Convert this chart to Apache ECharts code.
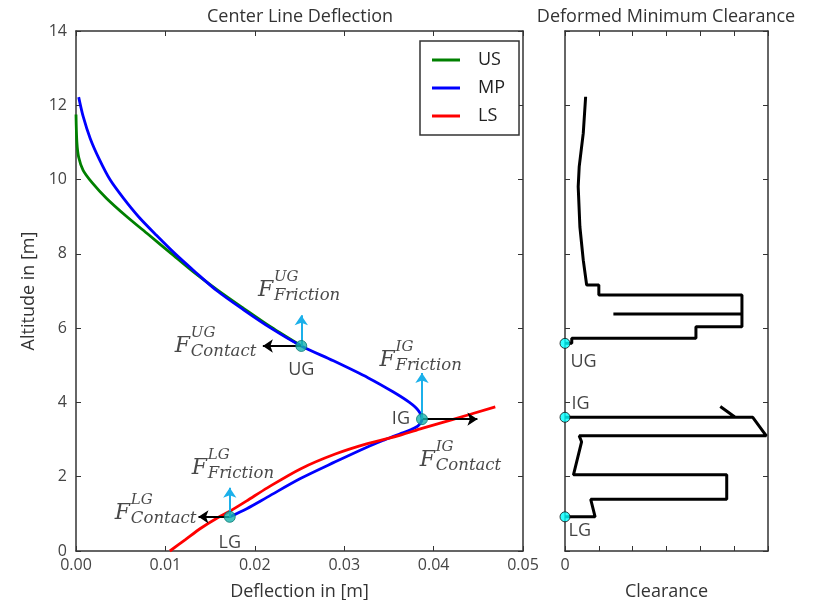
<!DOCTYPE html>
<html><head><meta charset="utf-8">
<script src="https://cdn.jsdelivr.net/npm/echarts@6/dist/echarts.min.js"></script>
<style>html,body{margin:0;padding:0;background:#fff}#c{width:824px;height:600px}</style>
</head><body><div id="c"></div>
<script>
// ---------- data ----------
const usPoints = [[0.0000,11.75],[0.0001,11.0],[0.0003,10.6],[0.0008,10.25],[0.0018,9.92],[0.0034,9.5],[0.0056,9.02],[0.0081,8.52],[0.0106,8.02],[0.0131,7.52],[0.0158,7.03],[0.0187,6.54],[0.0218,6.03],[0.0252,5.52]];
const mpPoints = [[0.0003,12.22],[0.0008,11.7],[0.0016,11.1],[0.0026,10.55],[0.0038,10.0],[0.0053,9.5],[0.0070,9.0],[0.0090,8.5],[0.0111,8.0],[0.0134,7.5],[0.0158,7.0],[0.0187,6.5],[0.0218,6.0],[0.0252,5.52],[0.0288,5.12],[0.0327,4.66],[0.0355,4.28],[0.0373,4.0],[0.0383,3.78],[0.0387,3.55],[0.0383,3.38],[0.0375,3.27],[0.0362,3.15],[0.0345,2.99],[0.0326,2.80],[0.0290,2.40],[0.0251,1.95],[0.0214,1.45],[0.0191,1.14],[0.0172,0.92]];
const lsPoints = [[0.0105,0.0],[0.0122,0.3],[0.0140,0.62],[0.0158,0.89],[0.0172,1.07],[0.0191,1.35],[0.0214,1.70],[0.0251,2.21],[0.0290,2.61],[0.0326,2.89],[0.0363,3.12],[0.0387,3.30],[0.0420,3.53],[0.0469,3.88]];

const gaugeNames = ['UG','IG','LG'];
const gaugeDeflection = [0.0252, 0.0387, 0.0172];
const gaugeAltitude = [5.52, 3.55, 0.92];
const contactArrowTip = [0.0209, 0.0449, 0.0137];   // deflection where black arrow ends
const frictionArrowTip = [6.35, 4.79, 1.70];        // altitude where cyan arrow ends

const forceSup = ['UG','UG','IG','IG','LG','LG'];
const forceSub = ['Friction','Contact','Friction','Contact','Friction','Contact'];
const forceLabelAnchor = [[0.0204,7.57],[0.0111,6.06],[0.0340,5.68],[0.0385,2.99],[0.0130,2.77],[0.0044,1.56]];

const clearanceUpper = [[0.61,12.23],[0.54,11.25],[0.42,10.35],[0.39,9.81],[0.44,8.73],[0.54,7.83],[0.64,7.16],[1.0,7.16],[1.0,6.89],[5.23,6.89],[5.23,6.38],[1.43,6.38],[5.23,6.38],[5.23,6.04],[3.87,6.04],[3.87,5.73],[0.2,5.73],[0.2,5.59],[0,5.59]];
const clearanceLower = [[4.59,3.89],[5.03,3.6],[0,3.6],[5.55,3.6],[5.95,3.1],[0.42,3.1],[0.49,2.94],[0.25,2.05],[4.78,2.05],[4.78,1.39],[0.76,1.39],[0.89,0.92],[0,0.92]];
const clearanceGaugeAltitude = [5.59, 3.60, 0.92];

const deflectionTickLabels = ['0.00','0.01','0.02','0.03','0.04','0.05'];
const altitudeTickLabels = ['0','2','4','6','8','10','12','14'];
const clearanceTickLabels = ['0','','','','','',''];

// ---------- chart ----------
const FONT = 'Open Sans';
const MATH = 'DejaVu Serif';
const AX = '#333';
const chart = echarts.init(document.getElementById('c'), null, {renderer:'canvas'});

function frameAxis(o){
  return Object.assign({
    type:'value', splitLine:{show:false},
    axisLine:{show:true, onZero:false, lineStyle:{color:AX, width:1.5}},
    axisTick:{show:true, inside:true, length:5, lineStyle:{color:AX, width:1}},
    axisLabel:{show:false}
  }, o);
}
const tickLabel = {show:true, color:'#444', fontSize:16, fontFamily:FONT};
const nameStyle = {color:'#333', fontSize:18, fontFamily:FONT};

const scriptRich = {
  sup:{fontFamily:MATH, fontStyle:'italic', fontSize:15, color:'#1a1a1a', lineHeight:15},
  sub:{fontFamily:MATH, fontStyle:'italic', fontSize:16.5, color:'#1a1a1a', lineHeight:22}
};

const option = {
  animation:false,
  backgroundColor:'#fff',
  textStyle:{fontFamily:FONT},
  title:[
    {text:'Center Line Deflection', left:300, top:8, padding:0, textAlign:'center', textStyle:{fontSize:18, fontWeight:'normal', color:'#333', fontFamily:FONT}},
    {text:'Deformed Minimum Clearance', left:666, top:8, padding:0, textAlign:'center', textStyle:{fontSize:18, fontWeight:'normal', color:'#333', fontFamily:FONT}}
  ],
  legend:{
    data:['US','MP','LS'], orient:'vertical', left:420, top:41, icon:'rect',
    padding:[10,14,10,12], itemGap:10, itemWidth:28, itemHeight:3,
    backgroundColor:'#fff', borderColor:'#333', borderWidth:1.5, borderRadius:0,
    textStyle:{fontSize:18, lineHeight:14, color:'#222', fontFamily:FONT, padding:[0,0,0,13]}
  },
  grid:[
    {left:76, top:31, width:447, height:520, containLabel:false, outerBoundsMode:'none'},
    {left:565, top:31, width:203, height:520, containLabel:false, outerBoundsMode:'none'}
  ],
  xAxis:[
    frameAxis({gridIndex:0, min:0, max:0.05, interval:0.01, position:'bottom',
      axisLabel:Object.assign({}, tickLabel, {margin:6, formatter:v=>deflectionTickLabels[Math.round(v/0.01)]}),
      name:'Deflection in [m]', nameLocation:'middle', nameGap:32, nameTextStyle:nameStyle}),
    frameAxis({gridIndex:0, min:0, max:0.05, interval:0.01, position:'top'}),
    frameAxis({gridIndex:1, min:0, max:6, interval:1, position:'bottom',
      axisLabel:Object.assign({}, tickLabel, {margin:6, formatter:v=>clearanceTickLabels[Math.round(v)]}),
      name:'Clearance', nameLocation:'middle', nameGap:32, nameTextStyle:nameStyle}),
    frameAxis({gridIndex:1, min:0, max:6, interval:1, position:'top'})
  ],
  yAxis:[
    frameAxis({gridIndex:0, min:0, max:14, interval:2, position:'left',
      axisLabel:Object.assign({}, tickLabel, {margin:9, formatter:v=>altitudeTickLabels[Math.round(v/2)]}),
      name:'Altitude in [m]', nameLocation:'middle', nameGap:37, nameRotate:90, nameTextStyle:nameStyle}),
    frameAxis({gridIndex:0, min:0, max:14, interval:2, position:'right'}),
    frameAxis({gridIndex:1, min:0, max:14, interval:2, position:'left'}),
    frameAxis({gridIndex:1, min:0, max:14, interval:2, position:'right'})
  ],
  series:[
    {name:'US', type:'line', xAxisIndex:0, yAxisIndex:0, data:usPoints, symbol:'none', smooth:0.3,
      color:'#008000', lineStyle:{color:'#008000', width:2.8}, z:2},
    {name:'MP', type:'line', xAxisIndex:0, yAxisIndex:0, data:mpPoints, symbol:'none', smooth:0.3,
      color:'#0000ff', lineStyle:{color:'#0000ff', width:2.8}, z:3},
    {name:'LS', type:'line', xAxisIndex:0, yAxisIndex:0, data:lsPoints, symbol:'none', smooth:0.3,
      color:'#ff0000', lineStyle:{color:'#ff0000', width:2.8}, z:4},
    {type:'lines', coordinateSystem:'cartesian2d', xAxisIndex:0, yAxisIndex:0, silent:true, z:5,
      symbol:['none','arrow'], symbolSize:10,
      lineStyle:{color:'#000', width:2, opacity:1},
      data:gaugeNames.map((n,i)=>({coords:[[gaugeDeflection[i],gaugeAltitude[i]],[contactArrowTip[i],gaugeAltitude[i]]]}))},
    {type:'lines', coordinateSystem:'cartesian2d', xAxisIndex:0, yAxisIndex:0, silent:true, z:5,
      symbol:['none','arrow'], symbolSize:10,
      lineStyle:{color:'#1bb0ea', width:2, opacity:1},
      data:gaugeNames.map((n,i)=>({coords:[[gaugeDeflection[i],gaugeAltitude[i]],[gaugeDeflection[i],frictionArrowTip[i]]]}))},
    {type:'scatter', xAxisIndex:0, yAxisIndex:0, silent:true, z:6, symbolSize:11,
      itemStyle:{color:'#17b3ad', borderColor:'#0d7a76', borderWidth:1},
      label:{show:true, formatter:'{b}', color:'#111', fontSize:18, fontFamily:FONT},
      data:gaugeNames.map((n,i)=>({name:n, value:[gaugeDeflection[i],gaugeAltitude[i]],
        label:{position: n==='IG' ? 'left' : 'bottom', distance: n==='IG' ? 6 : (n==='UG' ? 9 : 11)}}))},
    // big italic F of each force label
    {type:'scatter', xAxisIndex:0, yAxisIndex:0, silent:true, z:7, symbolSize:1,
      itemStyle:{color:'rgba(0,0,0,0)'},
      label:{show:true, position:[0,0], align:'left', verticalAlign:'top', offset:[0,10],
        formatter:'F', fontFamily:MATH, fontStyle:'italic', fontSize:22, lineHeight:22, color:'#1a1a1a'},
      data:forceLabelAnchor.map(a=>({value:a}))},
    // superscript / subscript of each force label
    {type:'scatter', xAxisIndex:0, yAxisIndex:0, silent:true, z:7, symbolSize:1,
      itemStyle:{color:'rgba(0,0,0,0)'},
      label:{show:true, position:[0,0], align:'left', verticalAlign:'top', offset:[16,0], rich:scriptRich,
        formatter:p=>'{sup|'+forceSup[p.dataIndex]+'}\n{sub|'+forceSub[p.dataIndex]+'}'},
      data:forceLabelAnchor.map(a=>({value:a}))},
    {type:'line', xAxisIndex:2, yAxisIndex:2, data:clearanceUpper, symbol:'none',
      lineStyle:{color:'#000', width:3}, z:3},
    {type:'line', xAxisIndex:2, yAxisIndex:2, data:clearanceLower, symbol:'none',
      lineStyle:{color:'#000', width:3}, z:3},
    {type:'scatter', xAxisIndex:2, yAxisIndex:2, silent:true, z:6, symbolSize:10,
      itemStyle:{color:'#00ffff', borderColor:'#111', borderWidth:1},
      label:{show:true, formatter:'{b}', color:'#111', fontSize:18, fontFamily:FONT, align:'left', verticalAlign:'middle'},
      data:gaugeNames.map((n,i)=>({name:n, value:[0,clearanceGaugeAltitude[i]],
        label:{position: n==='IG' ? [12,-8] : (n==='UG' ? [11,24] : [9,20])}}))}
  ]
};
chart.setOption(option);
</script>
</body></html>
